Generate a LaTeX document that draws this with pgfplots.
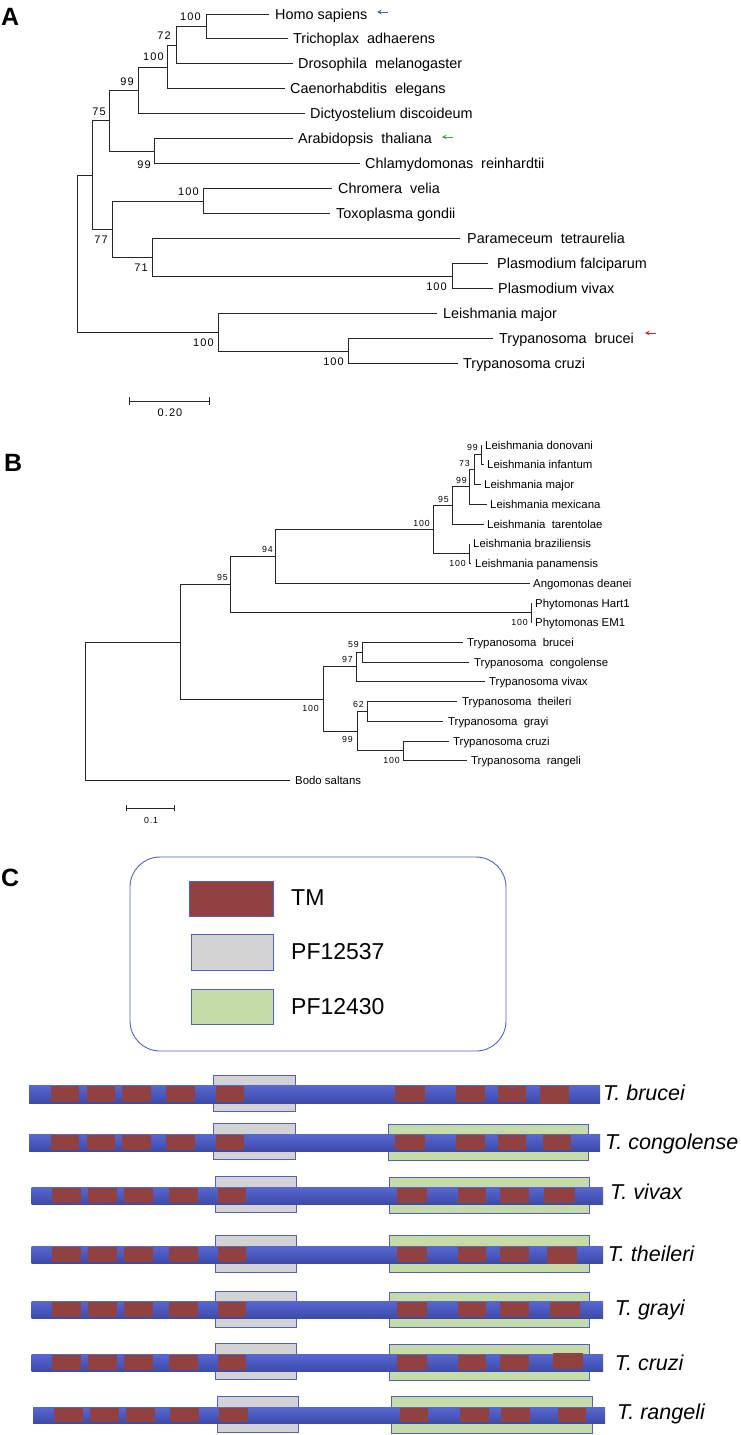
\documentclass[border=0pt]{standalone}
\usepackage{pgfplots}
\pgfplotsset{compat=1.18}
\usepackage{fontspec}
\setmainfont{Liberation Sans}
\newfontfamily\bsfont[LetterSpace=10]{Liberation Sans}
\usetikzlibrary{arrows.meta}
\definecolor{tmred}{RGB}{145,66,64}
\definecolor{pfgray}{RGB}{211,211,211}
\definecolor{pfgreen}{RGB}{197,220,168}
\definecolor{bartop}{RGB}{88,104,208}
\definecolor{barbot}{RGB}{60,74,170}
\definecolor{edgeblue}{RGB}{80,96,200}
\definecolor{arrblue}{RGB}{70,90,200}
\definecolor{arrgreen}{RGB}{60,170,60}
\definecolor{arrred}{RGB}{225,30,40}
\newcommand{\fA}{\fontsize{14.4bp}{17bp}\selectfont}
\newcommand{\fB}{\fontsize{11.4bp}{13bp}\selectfont}
\newcommand{\fbA}{\fontsize{11bp}{13bp}\selectfont\bsfont}
\newcommand{\fbB}{\fontsize{8.8bp}{10bp}\selectfont\bsfont}
\newcommand{\fL}{\fontsize{23bp}{27bp}\selectfont}
\newcommand{\fD}{\fontsize{21.5bp}{25bp}\selectfont\itshape}
\newcommand{\fP}{\fontsize{25bp}{30bp}\selectfont\bfseries}
\newcommand{\br}[1]{\addplot[tr] coordinates {#1};}
\newcommand{\rect}[5]{\addplot[#5] coordinates {(#1,#3)(#2,#3)(#2,#4)(#1,#4)} -- cycle;}
\newcommand{\tm}[4]{\rect{#1}{#2}{#3}{#4}{tmbox}}
\tikzset{
  tr/.style={draw=black!85, line width=1bp, mark=none},
  tmbox/.style={fill=tmred, draw=none, mark=none},
  graybox/.style={fill=pfgray, draw=edgeblue, line width=0.9bp, mark=none},
  greenbox/.style={fill=pfgreen, draw=edgeblue, line width=0.9bp, mark=none},
  bar/.style={top color=bartop, bottom color=barbot, draw=none, mark=none},
  lA/.style={anchor=west, inner sep=0pt, font=\fA, text height=10.3bp, text depth=0pt},
  lB/.style={anchor=west, inner sep=0pt, font=\fB, text height=8.2bp, text depth=0pt},
  bA/.style={anchor=east, inner sep=0pt, font=\fbA, text height=7.9bp, text depth=0pt},
  bB/.style={anchor=east, inner sep=0pt, font=\fbB, text height=6.3bp, text depth=0pt},
  lL/.style={anchor=west, inner sep=0pt, font=\fL, text height=16.5bp, text depth=0pt},
  lD/.style={anchor=west, inner sep=0pt, font=\fD, text height=15.4bp, text depth=0pt},
  lP/.style={anchor=west, inner sep=0pt, font=\fP, text height=18bp, text depth=0pt},
  arr/.style={line width=1bp, -{Stealth[length=4.5bp,width=4.5bp]}, mark=none},
}
\begin{document}
\begin{tikzpicture}
\begin{axis}[scale only axis, width=741bp, height=1435bp,
  xmin=0, xmax=741, ymin=0, ymax=1435, y dir=reverse,
  axis lines=none, clip=false]
% ================= Panel A =================
\br{(269,14)(206,14)(206,38)(288,38)}
\br{(206,26)(176,26)(176,63)(293,63)}
\br{(176,45)(167,45)(167,88)(285,88)}
\br{(167,67)(138,67)(138,113)(305,113)}
\br{(293,138)(154,138)(154,163)(360,163)}
\br{(138,90)(109,90)(109,151)(154,151)}
\br{(332,188)(203,188)(203,213)(330,213)}
\br{(488,263)(452,263)(452,288)(493,288)}
\br{(460,238)(152,238)(152,276)(452,276)}
\br{(203,201)(112,201)(112,257)(152,257)}
\br{(109,120.5)(92,120.5)(92,229)(112,229)}
\br{(493,338)(348,338)(348,363)(458,363)}
\br{(437,313)(218,313)(218,351)(348,351)}
\br{(92,175)(77,175)(77,332)(218,332)}
\node[lA] at (275,14) {Homo sapiens};
\node[lA] at (293,38) {Trichoplax\ \ adhaerens};
\node[lA] at (298,63) {Drosophila\ \ melanogaster};
\node[lA] at (290,88) {Caenorhabditis\ \ elegans};
\node[lA] at (310,113) {Dictyostelium discoideum};
\node[lA] at (298,138) {Arabidopsis\ \ thaliana};
\node[lA] at (365,163) {Chlamydomonas\ \ reinhardtii};
\node[lA] at (338,188) {Chromera\ \ velia};
\node[lA] at (336,213) {Toxoplasma gondii};
\node[lA] at (467,238) {Parameceum\ \ tetraurelia};
\node[lA] at (497,263) {Plasmodium falciparum};
\node[lA] at (498,288) {Plasmodium vivax};
\node[lA] at (443,313) {Leishmania major};
\node[lA] at (499,338) {Trypanosoma\ \ brucei};
\node[lA] at (463,363) {Trypanosoma cruzi};
\node[bA] at (201,17) {100};
\node[bA] at (171,36) {72};
\node[bA] at (164,57) {100};
\node[bA] at (134,82) {99};
\node[bA] at (106,112) {75};
\node[bA] at (151,165) {99};
\node[bA] at (199,192) {100};
\node[bA] at (108,240) {77};
\node[bA] at (148,268) {71};
\node[bA] at (447,287) {100};
\node[bA] at (214,343) {100};
\node[bA] at (344,362) {100};
\addplot[arr, arrblue] coordinates {(388,12)(377,12)};
\addplot[arr, arrgreen] coordinates {(453,137)(442,137)};
\addplot[arr, arrred] coordinates {(656,333)(645,333)};
\addplot[tr] coordinates {(129,401)(209,401)};
\addplot[tr] coordinates {(129,397)(129,405)};
\addplot[tr] coordinates {(209,397)(209,405)};
\node[bA, anchor=center] at (170,413) {0.20};
\node[lP] at (1,16) {A};
% ================= Panel B =================
\br{(482,445)(481,445)(481,464)(484,464)}
\br{(481,454.5)(474,454.5)(474,484)(481,484)}
\br{(474,469)(469,469)(469,504)(487,504)}
\br{(469,486.5)(452,486.5)(452,524)(484,524)}
\br{(470,544)(469,544)(469,563)(471,563)}
\br{(452,505)(433,505)(433,553.5)(469,553.5)}
\br{(433,529)(275,529)(275,583)(530,583)}
\br{(531,603)(531,603)(531,622)(532,622)}
\br{(275,556)(230,556)(230,612.5)(531,612.5)}
\br{(463,642)(362,642)(362,662)(469,662)}
\br{(362,652)(356,652)(356,681)(485,681)}
\br{(457,701)(367,701)(367,721)(443,721)}
\br{(449,741)(403,741)(403,760)(467,760)}
\br{(367,711)(357,711)(357,750.5)(403,750.5)}
\br{(356,666.5)(323,666.5)(323,731)(357,731)}
\br{(230,584.5)(180,584.5)(180,699)(323,699)}
\br{(180,642)(85,642)(85,780)(290,780)}
\node[lB] at (485,445) {Leishmania donovani};
\node[lB] at (487,464) {Leishmania infantum};
\node[lB] at (484,484) {Leishmania major};
\node[lB] at (490,504) {Leishmania mexicana};
\node[lB] at (487,524) {Leishmania\ \ tarentolae};
\node[lB] at (473,543) {Leishmania braziliensis};
\node[lB] at (475,563) {Leishmania panamensis};
\node[lB] at (533,583) {Angomonas deanei};
\node[lB] at (535,603) {Phytomonas Hart1};
\node[lB] at (535,622) {Phytomonas EM1};
\node[lB] at (467,642) {Trypanosoma\ \ brucei};
\node[lB] at (474,662) {Trypanosoma\ \ congolense};
\node[lB] at (489,681) {Trypanosoma vivax};
\node[lB] at (462,701) {Trypanosoma\ \ theileri};
\node[lB] at (448,721) {Trypanosoma\ \ grayi};
\node[lB] at (453,741) {Trypanosoma cruzi};
\node[lB] at (471,760) {Trypanosoma\ \ rangeli};
\node[lB] at (295,780) {Bodo saltans};
\node[bB] at (478,447) {99};
\node[bB] at (470,463) {73};
\node[bB] at (467,480) {99};
\node[bB] at (449,499) {95};
\node[bB] at (430,523) {100};
\node[bB] at (466,563) {100};
\node[bB] at (273,549) {94};
\node[bB] at (228,577) {95};
\node[bB] at (528,622) {100};
\node[bB] at (359,644) {59};
\node[bB] at (353,659) {97};
\node[bB] at (319,708) {100};
\node[bB] at (364,704) {62};
\node[bB] at (353,739) {99};
\node[bB] at (400,760) {100};
\addplot[tr] coordinates {(126,808)(174,808)};
\addplot[tr] coordinates {(126,805)(126,811)};
\addplot[tr] coordinates {(174,805)(174,811)};
\node[bB, anchor=center] at (151,820) {0.1};
\node[lP] at (4,462) {B};
% ================= Panel C =================
\node[lP] at (1,877) {C};
\addplot[draw=edgeblue, line width=0.9bp, rounded corners=30bp, mark=none]
  coordinates {(318,857)(506,857)(506,1051)(130,1051)(130,857)(318,857)};
\rect{189}{273}{881}{916}{fill=tmred, draw=edgeblue, line width=0.6bp, mark=none}
\rect{191}{273}{934}{970}{graybox}
\rect{191}{273}{989}{1024}{greenbox}
\node[lL] at (291,897) {TM};
\node[lL] at (291,951) {PF12537};
\node[lL] at (291,1006) {PF12430};
% Row 1 T. brucei
\rect{213}{295}{1075}{1111}{graybox}
\rect{29}{600}{1085}{1103}{bar}
\tm{50.6}{79}{1086}{1102}\tm{86.5}{115}{1086}{1102}\tm{122}{151.3}{1086}{1102}
\tm{166.4}{195.3}{1086}{1102}\tm{215.6}{243.5}{1086}{1102}\tm{395.3}{424.6}{1086}{1102}
\tm{456.3}{484.6}{1086}{1102}\tm{497.9}{526.2}{1086}{1102}\tm{539.9}{568.8}{1086}{1104}
\node[lD] at (603,1093) {T. brucei};
% Row 2 T. congolense
\rect{213}{295}{1123}{1159}{graybox}
\rect{388}{588}{1124}{1160}{greenbox}
\rect{29}{600}{1134}{1151}{bar}
\tm{50.6}{79}{1135}{1150}\tm{86.5}{115}{1135}{1150}\tm{122}{151.3}{1135}{1150}
\tm{166.4}{195.3}{1135}{1150}\tm{215.6}{243.5}{1135}{1150}\tm{395.3}{424.6}{1135}{1150}
\tm{456.3}{484.6}{1135}{1150}\tm{497.9}{526.2}{1135}{1150}\tm{542.8}{571.2}{1135}{1150}
\node[lD] at (605,1142) {T. congolense};
% Row 3 T. vivax
\rect{215}{296.5}{1176}{1212}{graybox}
\rect{389.6}{589.6}{1177}{1213}{greenbox}
\rect{31.7}{603}{1187}{1204}{bar}
\tm{52}{81.3}{1188}{1203}\tm{88.4}{116.8}{1188}{1203}\tm{124.3}{152.7}{1188}{1203}
\tm{168.8}{197.6}{1188}{1203}\tm{217.5}{245.9}{1188}{1203}\tm{397.2}{427}{1188}{1203}
\tm{457.7}{486}{1188}{1203}\tm{499.8}{528.6}{1188}{1203}\tm{544.2}{574.5}{1188}{1203}
\node[lD] at (610,1192) {T. vivax};
% Row 4 T. theileri
\rect{215}{296.5}{1235}{1272}{graybox}
\rect{389.6}{589.6}{1235}{1272}{greenbox}
\rect{31.7}{603}{1246}{1263}{bar}
\tm{52}{81.3}{1247}{1262}\tm{88.4}{116.8}{1247}{1262}\tm{124.3}{152.7}{1247}{1262}
\tm{168.8}{197.6}{1247}{1262}\tm{217.5}{245.9}{1247}{1262}\tm{397.2}{427}{1247}{1262}
\tm{457.7}{486}{1247}{1262}\tm{499.8}{528.6}{1247}{1262}\tm{547}{576.8}{1247}{1264}
\node[lD] at (607.6,1254) {T. theileri};
% Row 5 T. grayi
\rect{215}{296.5}{1291}{1327}{graybox}
\rect{389.6}{589.6}{1292}{1327}{greenbox}
\rect{31.7}{603}{1301}{1318}{bar}
\tm{52}{81.3}{1302}{1317}\tm{88.4}{116.8}{1302}{1317}\tm{124.3}{152.7}{1302}{1317}
\tm{168.8}{197.6}{1302}{1317}\tm{217.5}{245.9}{1302}{1317}\tm{397.2}{427}{1302}{1317}
\tm{457.7}{486}{1302}{1317}\tm{499.8}{528.6}{1302}{1317}\tm{549.9}{580}{1302}{1317}
\node[lD] at (614.7,1308) {T. grayi};
% Row 6 T. cruzi
\rect{215}{296.5}{1343}{1379}{graybox}
\rect{389.6}{589.6}{1344}{1380}{greenbox}
\rect{31.7}{603}{1354}{1371}{bar}
\tm{52}{81.3}{1355}{1370}\tm{88.4}{116.8}{1355}{1370}\tm{124.3}{152.7}{1355}{1370}
\tm{168.8}{197.6}{1355}{1370}\tm{217.5}{245.9}{1355}{1370}\tm{397.2}{427}{1355}{1370}
\tm{457.7}{486}{1355}{1370}\tm{499.8}{528.6}{1355}{1370}\tm{553.2}{583}{1353}{1369}
\node[lD] at (614.7,1363) {T. cruzi};
% Row 7 T. rangeli
\rect{217}{298.8}{1396}{1432}{graybox}
\rect{391.5}{592}{1396}{1433}{greenbox}
\rect{33}{605}{1407}{1423}{bar}
\tm{53.9}{83.2}{1408}{1422}\tm{89.8}{119.1}{1408}{1422}\tm{126.2}{155.1}{1408}{1422}
\tm{170.2}{199.1}{1408}{1422}\tm{218.9}{248.2}{1408}{1422}\tm{399.5}{427.9}{1408}{1422}
\tm{460}{488.9}{1408}{1422}\tm{501.2}{530}{1408}{1422}\tm{558.4}{586.3}{1408}{1422}
\node[lD] at (617,1412) {T. rangeli};
\end{axis}
\pgfresetboundingbox
\useasboundingbox (current axis.south west) rectangle (current axis.north east);
\end{tikzpicture}
\end{document}
